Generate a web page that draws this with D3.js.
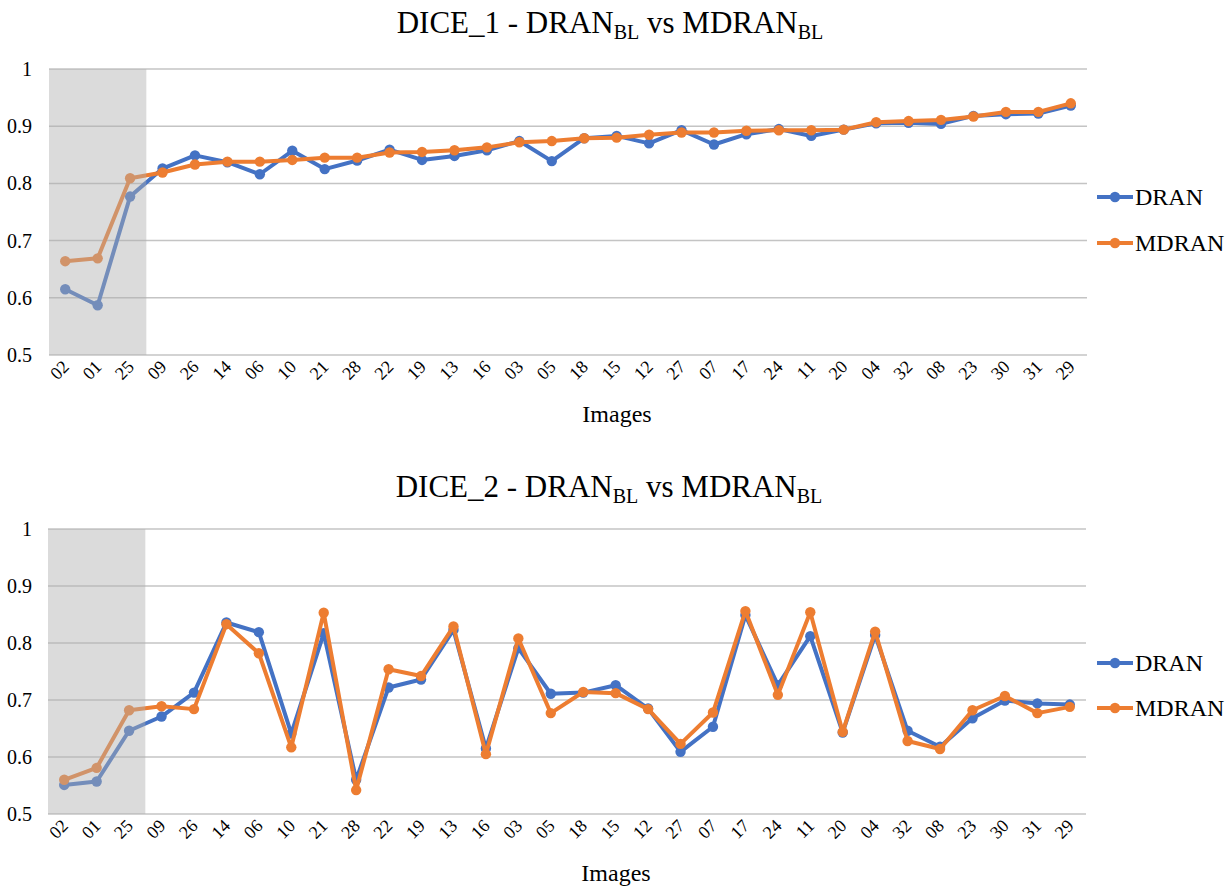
<!DOCTYPE html>
<html>
<head>
<meta charset="utf-8">
<script src="https://cdn.jsdelivr.net/npm/d3@7/dist/d3.min.js"></script>
<style>
  html, body { margin: 0; padding: 0; background: #fff; }
</style>
</head>
<body>
<svg id="chart" width="1231" height="886"></svg>
<script>
// Image order along the x axis (same for both charts)
const images = ["02","01","25","09","26","14","06","10","21","28",
                "22","19","13","16","03","05","18","15","12","27",
                "07","17","24","11","20","04","32","08","23","30",
                "31","29"];

const dice1Dran  = [0.615,0.587,0.777,0.826,0.849,0.837,0.816,0.857,0.825,0.840,
                    0.859,0.841,0.848,0.858,0.874,0.839,0.879,0.883,0.870,0.893,
                    0.868,0.886,0.895,0.883,0.894,0.905,0.906,0.904,0.918,0.921,
                    0.922,0.936];
const dice1Mdran = [0.664,0.669,0.809,0.819,0.833,0.838,0.838,0.841,0.845,0.845,
                    0.854,0.855,0.858,0.863,0.872,0.874,0.879,0.880,0.885,0.889,
                    0.889,0.892,0.893,0.893,0.894,0.907,0.909,0.911,0.917,0.925,
                    0.925,0.940];

const dice2Dran  = [0.551,0.557,0.646,0.671,0.713,0.836,0.819,0.641,0.817,0.560,
                    0.722,0.736,0.823,0.615,0.791,0.711,0.713,0.726,0.685,0.609,
                    0.653,0.849,0.726,0.812,0.643,0.814,0.646,0.618,0.668,0.699,
                    0.694,0.692];
const dice2Mdran = [0.560,0.581,0.682,0.689,0.684,0.833,0.782,0.617,0.853,0.542,
                    0.754,0.742,0.829,0.605,0.808,0.677,0.714,0.712,0.684,0.623,
                    0.678,0.856,0.709,0.854,0.644,0.820,0.628,0.614,0.682,0.707,
                    0.677,0.688];

const yTicks = [0.5, 0.6, 0.7, 0.8, 0.9, 1];
const seriesNames = ["DRAN", "MDRAN"];
const seriesColors = ["#4472C4", "#ED7D31"];
const shadedCount = 3; // first images sit in the grey band

const svg = d3.select("#chart");
const FONT = "'Liberation Serif', Tinos, 'Times New Roman', Times, 'DejaVu Serif', serif";

function txt(sel, size) {
  return sel.style("font-family", FONT).style("font-size", size + "px").attr("fill", "#000");
}

function drawChart(opts) {
  const { top, left, width, height, titleNum, titleY, series } = opts;
  const g = svg.append("g");

  const x = d3.scaleBand().domain(images).range([left, left + width]);
  const y = d3.scaleLinear().domain([0.5, 1]).range([top + height, top]);

  // title with subscripts
  const title = txt(g.append("text"), 31)
    .attr("x", left + width / 2 + 42)
    .attr("y", titleY)
    .attr("text-anchor", "middle");
  title.append("tspan").text(`DICE_${titleNum} - DRAN`);
  title.append("tspan").attr("dy", 6).style("font-size", "20px").text("BL");
  title.append("tspan").attr("dy", -6).text(" vs MDRAN");
  title.append("tspan").attr("dy", 6).style("font-size", "20px").text("BL");

  // gridlines
  g.selectAll("line.grid")
    .data(yTicks)
    .enter().append("line")
    .attr("x1", left).attr("x2", left + width)
    .attr("y1", d => y(d)).attr("y2", d => y(d))
    .attr("stroke", "#c4c4c4")
    .attr("stroke-width", 1.5);

  // y tick labels
  txt(g.selectAll("text.ytick")
    .data(yTicks)
    .enter().append("text"), 20)
    .attr("x", 32)
    .attr("y", d => y(d) + 7)
    .attr("text-anchor", "end")
    .text(d => d === 1 ? "1" : d.toFixed(1));

  // x tick labels, rotated
  txt(g.selectAll("text.xtick")
    .data(images)
    .enter().append("text"), 18)
    .attr("text-anchor", "end")
    .attr("transform", d => {
      const cx = x(d) + x.bandwidth() / 2 + 5;
      const cy = top + height + 13;
      return `translate(${cx},${cy}) rotate(-45)`;
    })
    .text(d => d);

  // axis title
  txt(g.append("text"), 24)
    .attr("x", left + width / 2 + 49)
    .attr("y", top + height + 67)
    .attr("text-anchor", "middle")
    .text("Images");

  // series lines and markers
  const line = d3.line()
    .x((d, i) => x(images[i]) + x.bandwidth() / 2)
    .y(d => y(d));

  series.forEach((vals, si) => {
    g.append("path")
      .datum(vals)
      .attr("d", line)
      .attr("fill", "none")
      .attr("stroke", seriesColors[si])
      .attr("stroke-width", 4)
      .attr("stroke-linejoin", "round");
    g.selectAll(null)
      .data(vals)
      .enter().append("circle")
      .attr("cx", (d, i) => x(images[i]) + x.bandwidth() / 2)
      .attr("cy", d => y(d))
      .attr("r", 5.2)
      .attr("fill", seriesColors[si]);
  });

  // grey band laid over the first images
  g.append("rect")
    .attr("x", left)
    .attr("y", top)
    .attr("width", x.step() * shadedCount)
    .attr("height", height)
    .attr("fill", "#b0b0b0")
    .attr("opacity", 0.45);

  // legend
  const legend = g.append("g");
  seriesNames.forEach((name, si) => {
    const ly = opts.legendY[si];
    legend.append("line")
      .attr("x1", 1097).attr("x2", 1133)
      .attr("y1", ly).attr("y2", ly)
      .attr("stroke", seriesColors[si])
      .attr("stroke-width", 4);
    legend.append("circle")
      .attr("cx", 1115).attr("cy", ly).attr("r", 5.2)
      .attr("fill", seriesColors[si]);
    txt(legend.append("text"), 24)
      .attr("x", 1135).attr("y", ly + 8)
      .text(name);
  });
}

drawChart({
  top: 69, left: 49, width: 1038, height: 286,
  titleNum: 1, titleY: 33,
  series: [dice1Dran, dice1Mdran],
  legendY: [197, 243]
});

drawChart({
  top: 529, left: 48, width: 1038, height: 285,
  titleNum: 2, titleY: 497,
  series: [dice2Dran, dice2Mdran],
  legendY: [663, 708]
});
</script>
</body>
</html>
